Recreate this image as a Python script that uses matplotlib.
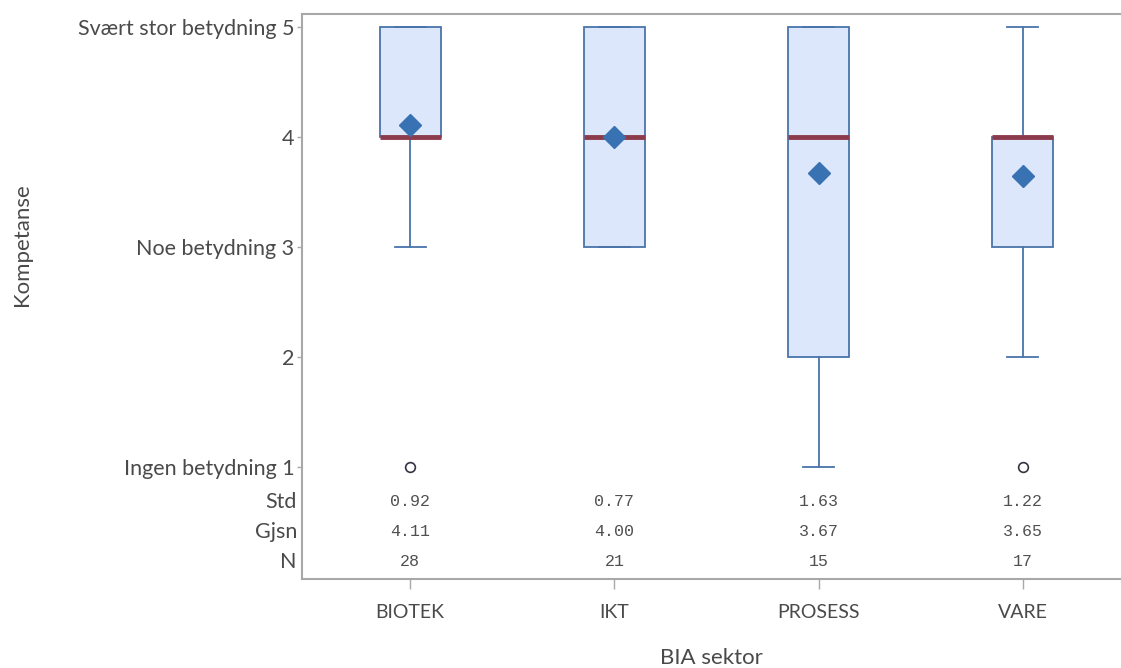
import matplotlib
matplotlib.use("Agg")
import matplotlib.pyplot as plt

# data
sectors = ["BIOTEK", "IKT", "PROSESS", "VARE"]
q1 = [4, 3, 2, 3]
median = [4, 4, 4, 4]
q3 = [5, 5, 5, 4]
whisk_lo = [3, 3, 1, 2]
whisk_hi = [5, 5, 5, 5]
means = [4.11, 4.00, 3.67, 3.65]
outliers = [[1], [], [], [1]]
std_vals = ["0.92", "0.77", "1.63", "1.22"]
mean_vals = ["4.11", "4.00", "3.67", "3.65"]
n_vals = ["28", "21", "15", "17"]

ytick_vals = [1, 2, 3, 4, 5]
ytick_labels = ["Ingen betydning 1", "2", "Noe betydning 3", "4", "Svært stor betydning 5"]

plt.rcParams["font.family"] = ["Lato", "DejaVu Sans"]

W, H = 1121, 668
fig = plt.figure(figsize=(W / 100, H / 100), dpi=100)
ax = fig.add_axes([302 / W, 1 - 579 / H, (1131 - 302) / W, (579 - 14) / H])

edge = "#4a74aa"
txt = "#4a4a4a"
stats = []
for i in range(len(sectors)):
    stats.append(dict(label=sectors[i], q1=q1[i], med=median[i], q3=q3[i],
                      whislo=whisk_lo[i], whishi=whisk_hi[i], mean=means[i],
                      fliers=outliers[i]))

ax.bxp(stats, positions=range(len(sectors)), widths=0.3, patch_artist=True,
       showmeans=True,
       boxprops=dict(facecolor="#dce7fc", edgecolor=edge, linewidth=1.3),
       whiskerprops=dict(color=edge, linewidth=1.3),
       capprops=dict(color=edge, linewidth=1.3),
       capwidths=0.15,
       medianprops=dict(color="#8c3b4c", linewidth=3.5, solid_capstyle="butt"),
       meanprops=dict(marker="D", markerfacecolor="#3872b2", markeredgecolor="#3872b2",
                      markersize=11),
       flierprops=dict(marker="o", markerfacecolor="none", markeredgecolor="#333344",
                       markersize=7, markeredgewidth=1.2))

ax.set_xlim(-0.53, 3.53)
ax.set_ylim(1 - 112 / 110, 5 + 13 / 110)

ax.set_yticks(ytick_vals)
ax.set_yticklabels(ytick_labels)
ax.set_xticks(range(len(sectors)))
ax.set_xticklabels(sectors)

for sp in ["left", "top", "bottom"]:
    ax.spines[sp].set_color("#a8a8a8")
    ax.spines[sp].set_linewidth(1.5)
ax.spines["right"].set_visible(False)

ax.tick_params(axis="y", length=3.6, width=1, color="#a8a8a8", labelsize=15.5,
               labelcolor=txt, pad=2)
ax.tick_params(axis="x", length=7, width=1, color="#a8a8a8", labelsize=14,
               labelcolor=txt, pad=11)

# stats table inside the axes
rows = [("Std", std_vals, 1 - 35 / 110), ("Gjsn", mean_vals, 1 - 65 / 110),
        ("N", n_vals, 1 - 95 / 110)]
for name, vals, y in rows:
    ax.text(-0.555, y, name, ha="right", va="center", fontsize=15.5, color=txt)
    for i, v in enumerate(vals):
        ax.text(i, y, v, ha="center", va="center", fontsize=12, color="#505050",
                family="Liberation Mono")

ax.set_xlabel("BIA sektor", fontsize=16, color=txt)
ax.xaxis.set_label_coords((711 - 302) / 829, -(648 - 579) / 565)
ax.set_ylabel("Kompetanse", fontsize=16, color=txt)
ax.yaxis.set_label_coords((32 - 302) / 829, (579 - 245) / 565)

fig.savefig("out.png", dpi=100)
